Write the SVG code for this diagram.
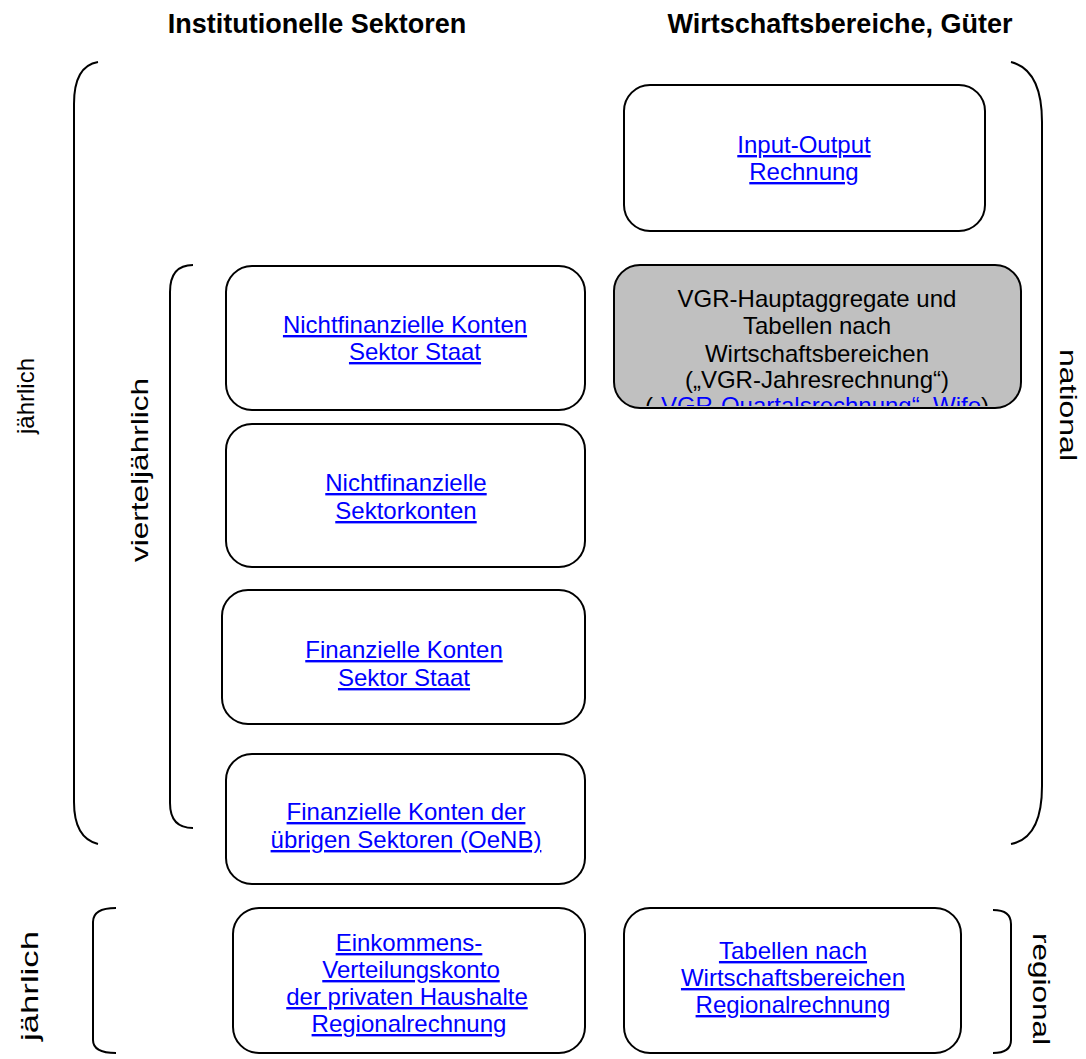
<svg xmlns="http://www.w3.org/2000/svg" width="1086" height="1059" viewBox="0 0 1086 1059">
<style>
.box{fill:#fff;stroke:#000;stroke-width:2}
.gray{fill:#c0c0c0;stroke:#000;stroke-width:2}
.br{fill:none;stroke:#000;stroke-width:2}
text{font-family:"Liberation Sans",Arial,sans-serif}
.t{font-size:24px;text-anchor:middle;fill:#000}
.lk{font-size:24px;text-anchor:middle;fill:#0000ff;text-decoration:underline}
.h{font-size:27px;font-weight:bold;text-anchor:middle;fill:#000}
.side{font-size:24px;text-anchor:middle;fill:#000}
</style>
<defs>
<clipPath id="clipGray"><rect x="614" y="265" width="407" height="141"/></clipPath>
</defs>
<rect width="1086" height="1059" fill="#fff"/>
<g id="headers">
<text class="h" x="317" y="33">Institutionelle Sektoren</text>
<text class="h" x="840" y="33">Wirtschaftsbereiche, Güter</text>
</g>
<g id="connectors">
<path class="br" d="M98,62 Q74,66 74,104 L74,802 Q74,838 98,844"/>
<path class="br" d="M193,265 Q170,265 170,292 L170,803 Q170,828 193,828"/>
<path class="br" d="M116,908 Q93,908 93,922 L93,1040 Q93,1053 116,1053"/>
<path class="br" d="M1011,62 Q1042,70 1042,122 L1042,786 Q1042,838 1011,844"/>
<path class="br" d="M993,910 Q1011,910 1011,924 L1011,1040 Q1011,1053 993,1053"/>
</g>
<g id="labels">
<text class="side" transform="translate(34,396) rotate(-90)">jährlich</text>
<text class="side" transform="translate(148,470) rotate(-90)" textLength="184" lengthAdjust="spacingAndGlyphs">vierteljährlich</text>
<text class="side" transform="translate(1060,405) rotate(90)" textLength="112" lengthAdjust="spacingAndGlyphs">national</text>
<text class="side" transform="translate(38,986) rotate(-90)" textLength="110" lengthAdjust="spacingAndGlyphs">jährlich</text>
<text class="side" transform="translate(1033,989) rotate(90)" textLength="112" lengthAdjust="spacingAndGlyphs">regional</text>
</g>
<g id="node-io">
<rect class="box" x="624" y="85" width="361" height="146" rx="26"/>
<text class="lk" x="804" y="153">Input-Output</text>
<text class="lk" x="804" y="180">Rechnung</text>
</g>
<g id="node-vgr">
<rect class="gray" x="614" y="265" width="407" height="143" rx="26"/>
<g clip-path="url(#clipGray)">
<text class="t" x="817" y="307">VGR-Hauptaggregate und</text>
<text class="t" x="817" y="334">Tabellen nach</text>
<text class="t" x="817" y="362">Wirtschaftsbereichen</text>
<text class="t" x="817" y="388">(„VGR-Jahresrechnung“)</text>
<text class="t" x="817" y="414">(<tspan fill="#0000ff">„VGR-Quartalsrechnung“, Wifo</tspan>)</text>
</g>
</g>
<g id="node-nfk-staat">
<rect class="box" x="226" y="266" width="359" height="144" rx="26"/>
<text class="lk" x="405" y="333">Nichtfinanzielle Konten</text>
<text class="lk" x="415" y="360">Sektor Staat</text>
</g>
<g id="node-nfk-sektor">
<rect class="box" x="226" y="424" width="359" height="143" rx="26"/>
<text class="lk" x="406" y="491">Nichtfinanzielle</text>
<text class="lk" x="406" y="519">Sektorkonten</text>
</g>
<g id="node-fk-staat">
<rect class="box" x="222" y="590" width="363" height="134" rx="26"/>
<text class="lk" x="404" y="658">Finanzielle Konten</text>
<text class="lk" x="404" y="686">Sektor Staat</text>
</g>
<g id="node-fk-oenb">
<rect class="box" x="226" y="754" width="359" height="130" rx="26"/>
<text class="lk" x="406" y="820">Finanzielle Konten der</text>
<text class="lk" x="406" y="848">übrigen Sektoren (OeNB)</text>
</g>
<g id="node-einkommen">
<rect class="box" x="233" y="908" width="352" height="145" rx="26"/>
<text class="lk" x="409" y="951">Einkommens-</text>
<text class="lk" x="411" y="978">Verteilungskonto</text>
<text class="lk" x="407" y="1005">der privaten Haushalte</text>
<text class="lk" x="409" y="1032">Regionalrechnung</text>
</g>
<g id="node-tabellen">
<rect class="box" x="624" y="908" width="337" height="145" rx="26"/>
<text class="lk" x="793" y="959">Tabellen nach</text>
<text class="lk" x="793" y="986">Wirtschaftsbereichen</text>
<text class="lk" x="793" y="1013">Regionalrechnung</text>
</g>
</svg>
